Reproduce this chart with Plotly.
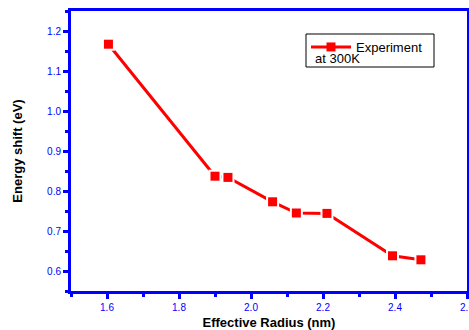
import plotly.graph_objects as go

radius = [1.604, 1.900, 1.936, 2.060, 2.126, 2.211, 2.393, 2.472]
energy = [1.167, 0.837, 0.834, 0.773, 0.745, 0.744, 0.638, 0.628]

x_ticks = [1.6, 1.8, 2.0, 2.2, 2.4, 2.6]
y_ticks = [0.6, 0.7, 0.8, 0.9, 1.0, 1.1, 1.2]

RED = "#ff0000"
BLUE = "#0000ff"
FONT = "Liberation Sans, Arial, sans-serif"

W, H = 469, 330
L, R, T, B = 71, 2, 11, 39
PW, PH = W - L - R, H - T - B

def px(x):
    return (x - L) / PW

def py(y):
    return (H - B - y) / PH

fig = go.Figure()
fig.add_trace(go.Scatter(x=radius, y=energy, mode="lines",
                         line=dict(color=RED, width=3), showlegend=False, hoverinfo="skip"))
fig.add_trace(go.Scatter(x=radius, y=energy, mode="markers",
                         marker=dict(symbol="square", size=13, color="white"),
                         showlegend=False, hoverinfo="skip"))
fig.add_trace(go.Scatter(x=radius, y=energy, mode="markers",
                         marker=dict(symbol="square", size=9, color=RED),
                         showlegend=False))
fig.add_trace(go.Scatter(x=[None], y=[None], mode="lines+markers", name="Experiment",
                         line=dict(color=RED, width=3),
                         marker=dict(symbol="square", size=9, color=RED)))

axis_common = dict(
    showline=True, linecolor=BLUE, linewidth=3, mirror=True,
    ticks="outside", tickcolor=BLUE, tickwidth=3, ticklen=5,
    tickfont=dict(family=FONT, size=10, color=BLUE),
    ticklabeloverflow="allow",
    showgrid=False, zeroline=False, automargin=False,
    minor=dict(ticks="outside", ticklen=3, tickwidth=3, tickcolor=BLUE),
)

fig.update_xaxes(range=[1.5, 2.6], tickvals=x_ticks, ticktext=[f"{v:.1f}" for v in x_ticks],
                 minor_dtick=0.1,
                 title=dict(text="<b>Effective Radius (nm)</b>", standoff=8,
                            font=dict(family=FONT, size=13, color="black")),
                 **axis_common)
fig.update_yaxes(range=[0.55, 1.25], tickvals=y_ticks, ticktext=[f"{v:.1f}" for v in y_ticks],
                 minor_dtick=0.05,
                 title=dict(text="<b>Energy shift (eV)</b>", standoff=22,
                            font=dict(family=FONT, size=13, color="black")),
                 **axis_common)

fig.add_shape(type="rect", xref="paper", yref="paper",
              x0=px(306), x1=px(434), y0=py(67), y1=py(34),
              line=dict(color="black", width=1), fillcolor="rgba(0,0,0,0)")
fig.add_annotation(xref="paper", yref="paper", x=px(313), y=py(59), xanchor="left", yanchor="middle",
                   text="at 300K", showarrow=False,
                   font=dict(family=FONT, size=13, color="black"))

fig.update_layout(
    width=W, height=H,
    margin=dict(l=L, r=R, t=T, b=B, autoexpand=False),
    paper_bgcolor="white", plot_bgcolor="white",
    legend=dict(x=px(306), y=py(32), xanchor="left", yanchor="top",
                bgcolor="rgba(0,0,0,0)", borderwidth=0,
                font=dict(family=FONT, size=13, color="black"),
                itemwidth=40, tracegroupgap=0),
)

fig.write_html("out.html")
